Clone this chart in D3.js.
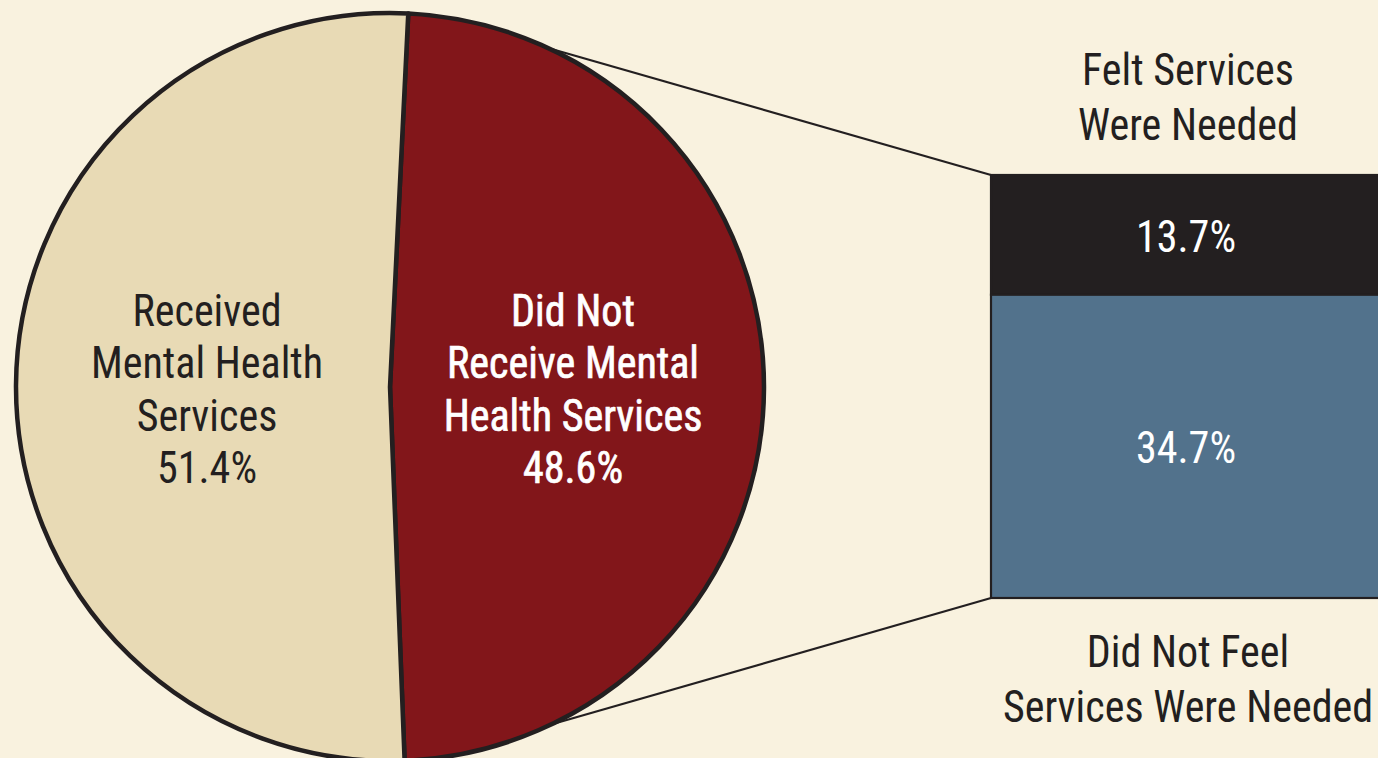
<!DOCTYPE html>
<html>
<head>
<meta charset="utf-8">
<script src="https://cdn.jsdelivr.net/npm/d3@7"></script>
<style>
html,body{margin:0;padding:0;background:#f9f2df;overflow:hidden;}
svg{display:block;}
text{font-family:"Liberation Sans Narrow","Arial Narrow","Roboto Condensed","Liberation Sans",sans-serif;}
</style>
</head>
<body>
<svg id="chart" width="1378" height="758"></svg>
<script>
// ---- data ----
const pieCategories = ["Did Not Receive Mental Health Services", "Received Mental Health Services"];
const pieValues = [48.6, 51.4];
const pieLabels = [
  ["Did Not", "Receive Mental", "Health Services", "48.6%"],
  ["Received", "Mental Health", "Services", "51.4%"]
];
const barCategories = ["Felt Services Were Needed", "Did Not Feel Services Were Needed"];
const barValues = [13.7, 34.7];
const barValueLabels = ["13.7%", "34.7%"];
const barLabelTop = ["Felt Services", "Were Needed"];
const barLabelBottom = ["Did Not Feel", "Services Were Needed"];

// ---- styles ----
const bg = "#f9f2df";
const pieColors = ["#82161a", "#e8dab5"];
const pieTextColors = ["#ffffff", "#231f20"];
const barColors = ["#231f20", "#52728c"];
const ink = "#231f20";
const sx = 0.935; // horizontal condensing of text

const svg = d3.select("#chart");
svg.append("rect").attr("width", 1378).attr("height", 758).attr("fill", bg);

// helper: multi-line centered, horizontally condensed text block
function textBlock(parent, cxText, lines, y0, lh, fill, extraStroke) {
  const g = parent.append("g").attr("transform", `translate(${cxText},0) scale(${sx},1)`);
  const t = g.append("text")
    .attr("text-anchor", "middle")
    .attr("font-size", 45)
    .attr("fill", fill);
  if (extraStroke) t.attr("stroke", fill).attr("stroke-width", extraStroke);
  lines.forEach((s, k) => t.append("tspan").attr("x", 0).attr("y", y0 + k * lh).text(s));
  return t;
}

// ---- pie ----
const cx = 390, cy = 387, R = 374;
const startA = 2.8 * Math.PI / 180;
const pie = d3.pie().sort(null).startAngle(startA).endAngle(startA + 2 * Math.PI);
const arcs = pie(pieValues);
const arc = d3.arc().innerRadius(0).outerRadius(R);

// connector lines (drawn under pie)
const rx = 991, rw = 394, ry0 = 175, ry1 = 598;
const connAngles = [25 * Math.PI / 180, 154.5 * Math.PI / 180];
const connTargets = [ry0, ry1];
const gConn = svg.append("g");
connAngles.forEach((a, i) => {
  gConn.append("line")
    .attr("x1", cx + R * Math.sin(a)).attr("y1", cy - R * Math.cos(a))
    .attr("x2", rx).attr("y2", connTargets[i])
    .attr("stroke", ink).attr("stroke-width", 2.2);
});

const gPie = svg.append("g").attr("transform", `translate(${cx},${cy})`);
gPie.selectAll("path").data(arcs).join("path")
  .attr("d", arc)
  .attr("fill", (d, i) => pieColors[i])
  .attr("stroke", ink).attr("stroke-width", 4.5).attr("stroke-linejoin", "round");

// pie labels
const labelCentersX = [573, 207];
arcs.forEach((d, i) => {
  textBlock(svg, labelCentersX[i], pieLabels[i], 326, 52.4, pieTextColors[i], i === 0 ? 0.7 : 0);
});

// ---- stacked bar ----
const total = d3.sum(barValues);
const y = d3.scaleLinear().domain([0, total]).range([ry0, ry1]);
let cum = 0;
const segs = barValues.map((v, i) => { const s = {v, i, y0: cum, y1: cum + v}; cum += v; return s; });
const gBar = svg.append("g");
gBar.selectAll("rect").data(segs).join("rect")
  .attr("x", rx).attr("width", rw)
  .attr("y", d => y(d.y0)).attr("height", d => y(d.y1) - y(d.y0))
  .attr("fill", d => barColors[d.i])
  .attr("stroke", ink).attr("stroke-width", 2.2);
segs.forEach(d => {
  textBlock(svg, rx + rw / 2 - 2, [barValueLabels[d.i]], (y(d.y0) + y(d.y1)) / 2 + 17, 0, "#ffffff", 0);
});

// bar labels
textBlock(svg, 1188, barLabelTop, 85, 55, ink, 0);
textBlock(svg, 1188, barLabelBottom, 667, 55, ink, 0);
</script>
</body>
</html>
